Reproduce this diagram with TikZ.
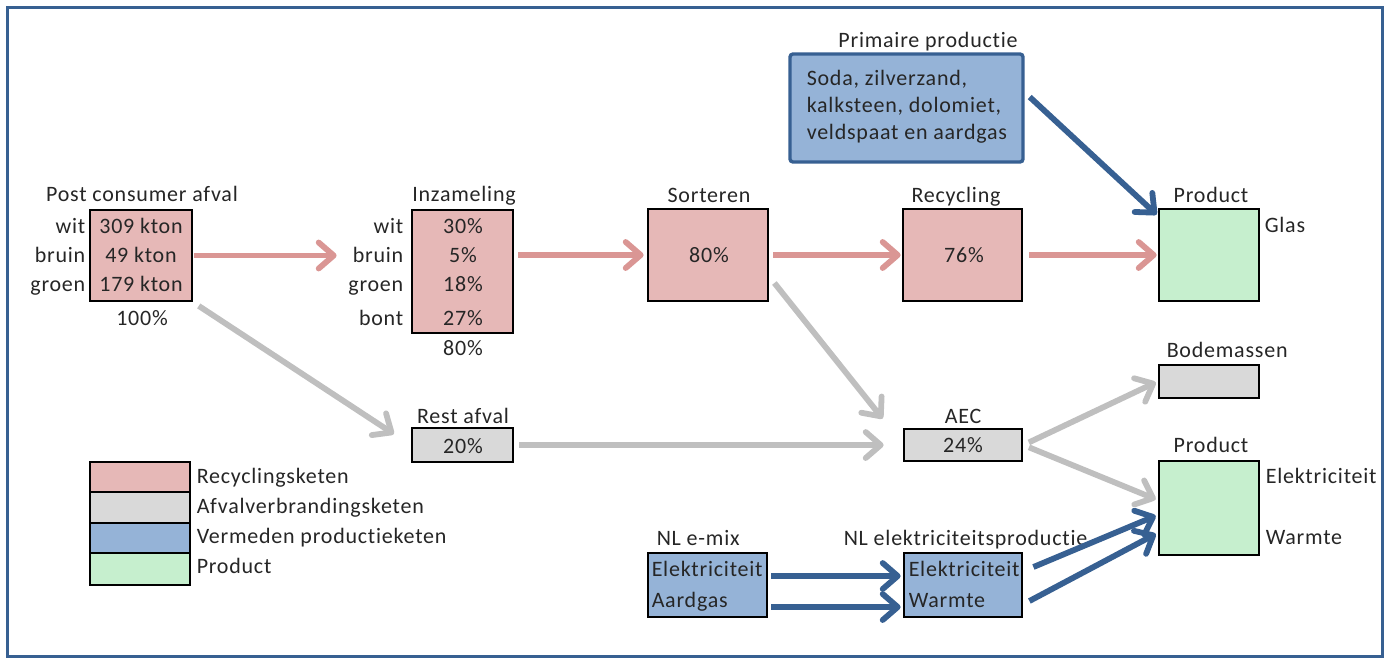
\documentclass[tikz,border=0pt]{standalone}
\usepackage{fontspec}
\setmainfont{Carlito}[LetterSpace=3.5,Ligatures={NoCommon}]
\usetikzlibrary{arrows.meta,calc}

\definecolor{pinkfill}{RGB}{230,184,183}
\definecolor{pinkarrow}{RGB}{218,150,148}
\definecolor{grayfill}{RGB}{217,217,217}
\definecolor{grayarrow}{RGB}{191,191,191}
\definecolor{bluefill}{RGB}{149,179,215}
\definecolor{bluearrow}{RGB}{55,96,146}
\definecolor{greenfill}{RGB}{198,239,206}
\definecolor{txtgray}{RGB}{38,38,38}

\tikzset{every picture/.style={line width=0.75pt}}
\tikzset{
  box/.style={draw=black, line width=1.4pt, inner sep=0pt},
  txt/.style={inner sep=0pt, text=txtgray},
  flow/.style={line width=2.9pt, -{Straight Barb[length=7.5pt,width=13pt,round]}},
  pinkflow/.style={flow, draw=pinkarrow},
  grayflow/.style={flow, draw=grayarrow},
  blueflow/.style={flow, draw=bluearrow},
}

\begin{document}
\begin{tikzpicture}[x=0.5pt,y=0.5pt,yscale=-1,xscale=1,font=\fontsize{11}{13}\selectfont]
\useasboundingbox (0,0) rectangle (1390,660);

%Frame
\draw [draw=bluearrow, line width=1.5pt] (7,7) rectangle (1382,656);

%Shape: Rectangle (boxes)
\node [box, fill=pinkfill, minimum width=51pt, minimum height=45.5pt] (pca) at (141,255.5) {};
\node [box, fill=pinkfill, minimum width=50.5pt, minimum height=61.5pt] (inz) at (462.5,271.5) {};
\node [box, fill=pinkfill, minimum width=60pt, minimum height=46pt] (sort) at (708,255) {};
\node [box, fill=pinkfill, minimum width=59.5pt, minimum height=46pt] (rec) at (962.5,255) {};
\node [box, fill=greenfill, minimum width=50pt, minimum height=46pt] (prod1) at (1209,255) {};
\node [box, draw=bluearrow, line width=1.7pt, rounded corners=1.5pt, fill=bluefill, minimum width=116.5pt, minimum height=54pt] (prim) at (906.5,108) {};
\node [box, fill=grayfill, minimum width=50.5pt, minimum height=17pt] (rest) at (462.5,445) {};
\node [box, fill=grayfill, minimum width=59pt, minimum height=16pt] (aec) at (963,445) {};
\node [box, fill=grayfill, minimum width=50pt, minimum height=16.5pt] (bodem) at (1209,381.5) {};
\node [box, fill=greenfill, minimum width=50pt, minimum height=47pt] (prod2) at (1209,508) {};
\node [box, fill=bluefill, minimum width=59.5pt, minimum height=32pt] (emix) at (707.5,585) {};
\node [box, fill=bluefill, minimum width=59pt, minimum height=32pt] (elek) at (963,585) {};

%Legend
\node [box, fill=pinkfill, minimum width=50pt, minimum height=15pt] (leg1) at (140,477) {};
\node [box, fill=grayfill, minimum width=50pt, minimum height=15.5pt] (leg2) at (140,507.5) {};
\node [box, fill=bluefill, minimum width=50pt, minimum height=15pt] (leg3) at (140,538) {};
\node [box, fill=greenfill, minimum width=50pt, minimum height=16pt] (leg4) at (140,569) {};
\node [txt, anchor=base west] (legt1) at (196,483) {Recyclingsketen};
\node [txt, anchor=base west] (legt2) at (196,513) {Afvalverbrandingsketen};
\node [txt, anchor=base west] (legt3) at (196,543) {Vermeden productieketen};
\node [txt, anchor=base west] (legt4) at (196,573) {Product};

% Text Node: post consumer afval
\node [txt, anchor=base] (pcat) at (142,201) {Post consumer afval};
\node [txt, anchor=base east] (pcawit) at (86,233) {wit};
\node [txt, anchor=base east] (pcabruin) at (86,262) {bruin};
\node [txt, anchor=base east] (pcagroen) at (86,291) {groen};
\node [txt, anchor=base] (pcav1) at (141,233) {309 kton};
\node [txt, anchor=base] (pcav2) at (141,262) {49 kton};
\node [txt, anchor=base] (pcav3) at (141,291) {179 kton};
\node [txt, anchor=base] (pcap) at (142,325) {100\%};

% Text Node: inzameling
\node [txt, anchor=base] (inzt) at (464,201) {Inzameling};
\node [txt, anchor=base east] (inzwit) at (404,233) {wit};
\node [txt, anchor=base east] (inzbruin) at (404,262) {bruin};
\node [txt, anchor=base east] (inzgroen) at (404,291) {groen};
\node [txt, anchor=base east] (inzbont) at (404,325) {bont};
\node [txt, anchor=base] (inzv1) at (463,233) {30\%};
\node [txt, anchor=base] (inzv2) at (463,262) {5\%};
\node [txt, anchor=base] (inzv3) at (463,291) {18\%};
\node [txt, anchor=base] (inzv4) at (463,325) {27\%};
\node [txt, anchor=base] (inzp) at (463,355) {80\%};

% Text Node: sorteren, recycling, product
\node [txt, anchor=base] (sortt) at (709,202) {Sorteren};
\node [txt, anchor=base] (sortv) at (709,262) {80\%};
\node [txt, anchor=base] (rect) at (956,202) {Recycling};
\node [txt, anchor=base] (recv) at (964,262) {76\%};
\node [txt, anchor=base] (prod1t) at (1211,202) {Product};
\node [txt, anchor=base west] (glas) at (1264,232) {Glas};

% Text Node: primaire productie
\node [txt, anchor=base] (primt) at (928,47) {Primaire productie};
\node [txt, anchor=base west] (prim1) at (806,85) {Soda, zilverzand,};
\node [txt, anchor=base west] (prim2) at (806,112) {kalksteen, dolomiet,};
\node [txt, anchor=base west] (prim3) at (806,139) {veldspaat en aardgas};

% Text Node: afval
\node [txt, anchor=base] (restt) at (463,423) {Rest afval};
\node [txt, anchor=base] (restv) at (463,453) {20\%};
\node [txt, anchor=base] (aect) at (963,423) {AEC};
\node [txt, anchor=base] (aecv) at (963,452) {24\%};
\node [txt, anchor=base west] (bodemt) at (1166,357) {Bodemassen};
\node [txt, anchor=base] (prod2t) at (1211,452) {Product};
\node [txt, anchor=base west] (prod2e) at (1265,483) {Elektriciteit};
\node [txt, anchor=base west] (prod2w) at (1265,544) {Warmte};

% Text Node: elektriciteit
\node [txt, anchor=base west] (emixt) at (656,545) {NL e-mix};
\node [txt, anchor=base west] (emixE) at (651,576) {Elektriciteit};
\node [txt, anchor=base west] (emixA) at (651,607) {Aardgas};
\node [txt, anchor=base west] (elekt) at (843,545) {NL elektriciteitsproductie};
\node [txt, anchor=base west] (elekE) at (908,576) {Elektriciteit};
\node [txt, anchor=base west] (elekW) at (908,607) {Warmte};

%Straight Lines: recycling chain
\draw [pinkflow, shorten <=0.5pt, shorten >=37pt] (pca.east) -- (pca.east -| inz.west);
\draw [pinkflow, shorten <=2pt, shorten >=1.5pt] (inz.east |- sort.west) -- (sort.west);
\draw [pinkflow, shorten <=2pt, shorten >=0.5pt] (sort.east) -- (rec.west);
\draw [pinkflow, shorten <=3pt, shorten >=0.5pt] (rec.east) -- (prod1.west);
%Straight Lines: avoided production
\draw [blueflow] ($(prim.east)+(5,-11)$) -- ($(prod1.north west)+(-1,7)$);
%Straight Lines: incineration chain
\draw [grayflow, shorten <=3.2pt, shorten >=10pt] (pca.south east) -- (rest.west);
\draw [grayflow, shorten <=2.5pt, shorten >=9.5pt] (rest.east) -- (aec.west);
\draw [grayflow] ($(sort.east)+(5,28)$) -- ($(aec.north west)+(-20,-9)$);
\draw [grayflow, shorten <=3pt, shorten >=1pt] (aec.east) -- (bodem.west);
\draw [grayflow, shorten <=3pt, shorten >=1pt] (aec.east) -- ($(prod2.west)+(0,-8)$);
%Straight Lines: electricity
\draw [blueflow, shorten <=1.5pt, shorten >=1pt] (emix.east |- emixE.base) -- (elek.west |- emixE.base);
\draw [blueflow, shorten <=1.5pt, shorten >=1pt] (emix.east |- emixA.base) -- (elek.west |- emixA.base);
\draw [blueflow, shorten >=1pt] ($(elek.east)+(10,-18)$) -- ($(prod2.west)+(0,7)$);
\draw [blueflow, shorten >=1pt] ($(elek.east)+(6,16)$) -- ($(prod2.west)+(0,25)$);

\end{tikzpicture}
\end{document}
